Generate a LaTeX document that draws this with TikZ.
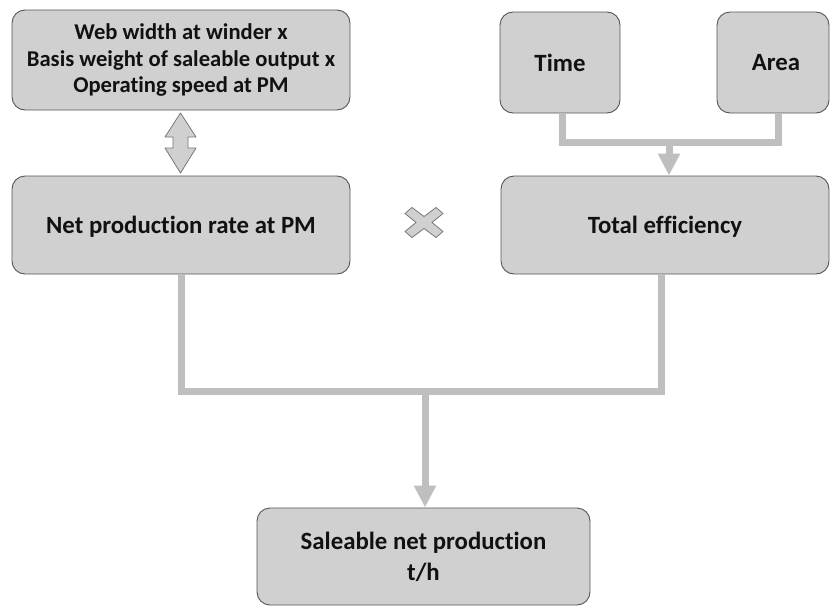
\documentclass[tikz,border=0pt]{standalone}
\usepackage{fontspec}
\setmainfont[Ligatures=NoCommon]{Carlito}
\usetikzlibrary{arrows.meta,calc}
\definecolor{boxfill}{HTML}{D0D0D0}
\definecolor{boxline}{HTML}{555555}
\definecolor{link}{HTML}{BFBFBF}
\definecolor{ink}{HTML}{111111}
\begin{document}
\begin{tikzpicture}[x=1pt,y=-1pt,
  card/.style={draw=boxline, line width=0.9pt, fill=boxfill, rounded corners=13pt,
    inner sep=0pt, align=center, text=ink, font=\bfseries\fontsize{24.8}{31}\selectfont},
  lowtext/.style={text height=20pt, text depth=3pt},
  smallcard/.style={card, font=\bfseries\fontsize{22.6}{26.5}\selectfont},
  wire/.style={draw=link, line width=7pt},
  feed/.style={wire, -{Triangle[width=21pt,length=22pt]}},
  shape2/.style={draw=boxline!80, line width=0.8pt, fill=boxfill, line join=round}]
\useasboundingbox (0,0) rectangle (830,608);
\clip (0,0) rectangle (830,608);

% boxes
\node[smallcard, minimum width=338pt, minimum height=100pt] (formula) at (181,60)
  {Web width at winder x\\Basis weight of saleable output x\\Operating speed at PM};
\node[card, lowtext, minimum width=338pt, minimum height=98pt] (net) at (181,225)
  {Net production rate at PM};
\node[card, minimum width=120pt, minimum height=101pt] (time) at (560,62.5) {Time};
\node[card, minimum width=112pt, minimum height=101pt] (area) at (773,62.5)
  {\hspace*{6pt}Area};
\node[card, lowtext, minimum width=328pt, minimum height=98pt] (total) at (665,225)
  {Total efficiency};
\node[card, minimum width=333pt, minimum height=97pt] (sale) at (423.5,556.5)
  {Saleable net production\\t/h};

% time and area feed total efficiency
\coordinate (tj) at ($(time.south)+(2,29)$);
\draw[wire] ([xshift=2pt]time.south) -- (tj) -| ([xshift=5pt]area.south);
\draw[feed] ([xshift=4pt]total.north |- tj) -- ([xshift=4pt]total.north);

% both rates feed saleable production
\coordinate (bj) at ($(net.south)+(0,117)$);
\draw[wire] (net.south) -- (bj) -| ([xshift=-4pt]total.south);
\draw[feed] ([xshift=1.5pt]sale.north |- bj) -- ([xshift=1.5pt]sale.north);

% two-headed block arrow between formula and net rate
\draw[shape2] (180.5,113) -- (196,137) -- (188,137) -- (188,148) -- (196,148)
  -- (180.5,173) -- (165,148) -- (173,148) -- (173,137) -- (165,137) -- cycle;

% multiplication sign
\begin{scope}[shift={(424,222.5)}]
  \draw[shape2] (-19,-9) -- (-12,-15) -- (0,-6) -- (12,-15) -- (19,-9) -- (8,0)
    -- (19,9) -- (12,15) -- (0,6) -- (-12,15) -- (-19,9) -- (-8,0) -- cycle;
\end{scope}
\end{tikzpicture}
\end{document}
